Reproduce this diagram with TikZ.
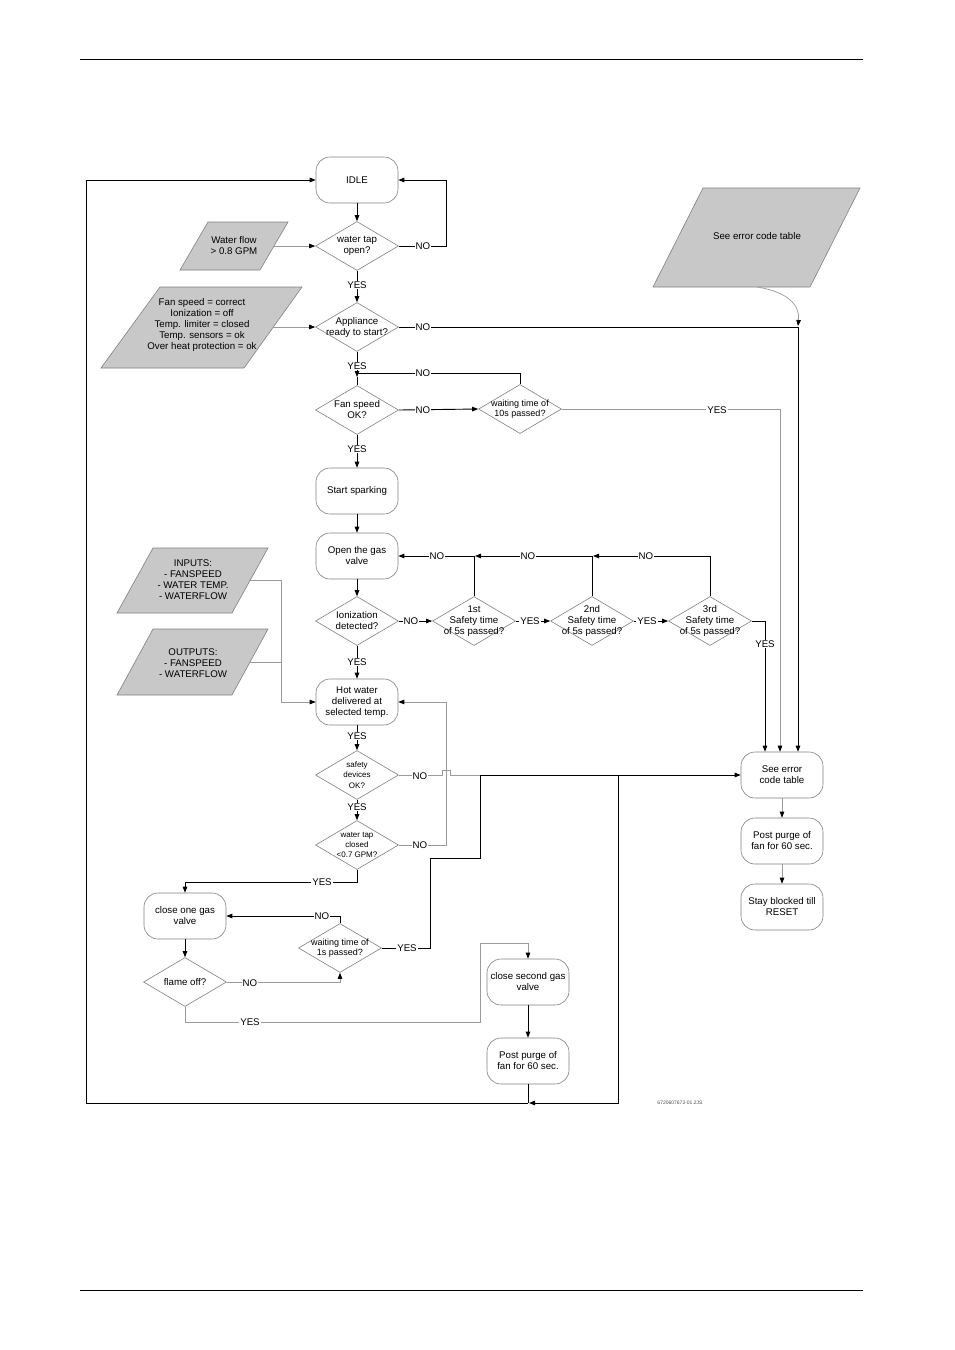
\documentclass[tikz,border=0pt]{standalone}
\usepackage{fontspec}
\setmainfont{Liberation Sans}
\usetikzlibrary{shapes.geometric,arrows.meta}
\definecolor{shapegray}{HTML}{808080}
\definecolor{linegray}{HTML}{9A9A9A}
\definecolor{parafill}{HTML}{C8C8C8}
\begin{document}
\begin{tikzpicture}[x=1pt,y=-1pt,
  every node/.style={font=\fontsize{9.7}{11}\selectfont},
  term/.style={draw=shapegray, line width=0.6pt, rounded corners=14pt, minimum width=82pt, minimum height=46pt, align=center, fill=white, inner sep=1pt},
  dia/.style={draw=shapegray, line width=0.6pt, diamond, minimum width=83pt, minimum height=49pt, inner sep=0pt, fill=white},
  dtxt/.style={align=center, inner sep=0pt},
  smalltxt/.style={align=center, inner sep=0pt, font=\fontsize{8}{10.3}\selectfont},
  midtxt/.style={align=center, inner sep=0pt, font=\fontsize{9}{10.5}\selectfont},
  para/.style={draw=shapegray, fill=parafill, line width=0.6pt},
  bl/.style={line width=0.9pt, black},
  gl/.style={line width=0.7pt, linegray},
  arr/.style={-{Triangle[length=6pt,width=4.5pt]}},
  garr/.style={-{Triangle[length=6pt,width=4.5pt,color=black]}},
  lab/.style={fill=white, inner sep=1pt},
]
\useasboundingbox (0,0) rectangle (954,1350);
% page rules
\draw[line width=0.9pt] (80,59) coordinate (ruleTL) -- (863,59) coordinate (ruleTR);
\draw[line width=0.9pt] (80,1290) coordinate (ruleBL) -- (863,1290) coordinate (ruleBR);

% data shapes (parallelograms)
\draw[para] (208,222) -- (288,222) -- (260,270) -- (180,270) -- cycle;
\node[dtxt] (wf) at (234,246) {Water flow\\> 0.8 GPM};
\coordinate (wfR) at (274,246);
\draw[para] (160,287) -- (302,287) -- (244,368) -- (101,368) -- cycle;
\node[dtxt] (fs) at (202,325) {Fan speed = correct\\Ionization = off\\Temp. limiter = closed\\Temp. sensors = ok\\Over heat protection = ok};
\coordinate (fsR) at (273,327);
\draw[para] (703,188) -- (860,188) -- (810,287) -- (653,287) -- cycle;
\node[dtxt] (errtab) at (757,236) {See error code table};
\coordinate (errB) at (757,287);
\draw[para] (153,548) -- (268,548) -- (232,613) -- (117,613) -- cycle;
\node[dtxt] (inp) at (193,580) {INPUTS:\\- FANSPEED\\- WATER TEMP.\\- WATERFLOW};
\coordinate (inpR) at (250,580);
\draw[para] (153,629) -- (268,629) -- (232,695) -- (117,695) -- cycle;
\node[dtxt] (outp) at (193,663) {OUTPUTS:\\- FANSPEED\\- WATERFLOW};
\coordinate (outR) at (250,662);

% terminators
\node[term] (idle) at (357,180) {IDLE};
\node[term] (spark) at (357,491) {Start sparking};
\node[term] (opengas) at (357,556) {Open the gas\\valve};
\node[term] (hotw) at (357,702) {Hot water\\delivered at\\selected temp.};
\node[term] (seeerr) at (782,775) {See error\\code table};
\node[term] (purgeR) at (782,841) {Post purge of\\fan for 60 sec.};
\node[term] (stay) at (782,907) {Stay blocked till\\RESET};
\node[term] (closeone) at (185,916) {close one gas\\valve};
\node[term] (closetwo) at (528,982) {close second gas\\valve};
\node[term] (purgeB) at (528,1061) {Post purge of\\fan for 60 sec.};

% decisions
\node[dia] (wto) at (357,246) {};
\node[dtxt] (wtoT) at (wto) {water tap\\open?};
\node[dia] (app) at (357,327) {};
\node[dtxt] (appT) at (app) {Appliance\\ready to start?};
\node[dia] (fan) at (357,410) {};
\node[dtxt] (fanT) at (fan) {Fan speed\\OK?};
\node[dia] (w10) at (520,409) {};
\node[midtxt] (w10T) at (w10) {waiting time of\\10s passed?};
\node[dia] (ion) at (357,621) {};
\node[dtxt] (ionT) at (ion) {Ionization\\detected?};
\node[dia] (s1) at (474,621) {};
\node[dtxt] (s1T) at (s1) {1st\\Safety time\\of 5s passed?};
\node[dia] (s2) at (592,621) {};
\node[dtxt] (s2T) at (s2) {2nd\\Safety time\\of 5s passed?};
\node[dia] (s3) at (710,621) {};
\node[dtxt] (s3T) at (s3) {3rd\\Safety time\\of 5s passed?};
\node[dia] (safe) at (357,775) {};
\node[smalltxt] (safeT) at (safe) {safety\\devices\\OK?};
\node[dia] (wtc) at (357,845) {};
\node[smalltxt] (wtcT) at (wtc) {water tap\\closed\\<0.7 GPM?};
\node[dia] (w1) at (340,948) {};
\node[midtxt] (w1T) at (w1) {waiting time of\\1s passed?};
\node[dia] (flame) at (185,982) {};
\node[dtxt] (flameT) at (flame) {flame off?};

% connectors
\draw[bl,arr] (idle.south) -- (wto.north);
\draw[bl,arr] (wto.east) -- ++(48,0) |- (idle.east);
\draw[gl,garr] (wfR) -- (wto.west);
\draw[bl,arr] (wto.south) -- (app.north);
\draw[gl,garr] (fsR) -- (app.west);
\draw[bl,arr] (app.east) -| ([xshift=16pt]seeerr.north);
\draw[gl,garr] (errB) .. controls (788,292) and (800,305) .. (798,326);
\draw[bl,arr] (app.south) -- (357,377);
\draw[bl] (357,377) -- (fan.north);
\draw[bl] (w10.north) |- (357,373);
\draw[bl,arr] (fan.east) -- (w10.west);
\draw[gl,garr] (w10.east) -| ([xshift=-2pt]seeerr.north);
\draw[bl,arr] (fan.south) -- (spark.north);
\draw[bl,arr] (spark.south) -- (opengas.north);
\draw[bl,arr] (opengas.south) -- (ion.north);
\draw[bl,arr] (ion.east) -- (s1.west);
\draw[bl,arr] (s1.east) -- (s2.west);
\draw[bl,arr] (s2.east) -- (s3.west);
\draw[bl,arr] (s1.north) |- (opengas.east);
\draw[bl,arr] (s2.north) |- ([xshift=1pt]s1.north |- opengas.east);
\draw[bl,arr] (s3.north) |- ([xshift=1pt]s2.north |- opengas.east);
\draw[bl,arr] (s3.east) -| ([xshift=-17pt]seeerr.north);
\draw[bl,arr] (ion.south) -- (hotw.north);
\draw[gl,garr] (inpR) -| ([xshift=-34pt]hotw.west) -- (hotw.west);
\draw[gl] (outR) -- (282,662);
\draw[bl,arr] (hotw.south) -- (safe.north);
\draw[gl] (safe.east) -- (442,775) -- (442,770) -- (450,770) -- (450,775) -- (480,775) coordinate (jn);
\draw[bl,arr] (jn) -- (seeerr.west);
\draw[bl,arr] (safe.south) -- (wtc.north);
\draw[gl,garr] (wtc.east) -- (446,845) |- (hotw.east);
\draw[bl,arr] (wtc.south) -- (357,882) -| (closeone.north);
\draw[bl,arr] (closeone.south) -- (flame.north);
\draw[gl,garr] (flame.east) -| (w1.south);
\draw[bl,arr] (w1.north) |- (closeone.east);
\draw[bl] (w1.east) -- (430,948) -- (430,858) -- (480,858) -- (jn);
\draw[gl,garr] (flame.south) -- (185,1022) -- (480,1022) -- (480,943) -| (closetwo.north);
\draw[bl,arr] (closetwo.south) -- (purgeB.north);
\draw[bl] (purgeB.south) -- (528,1103) coordinate (bj);
\draw[bl,arr] (618,775) -- (618,1103) -- ([xshift=1pt]bj);
\draw[bl,arr] (bj) -- (86,1103) -- (86,180) -- (idle.west);
\draw[gl,garr] (seeerr.south) -- (purgeR.north);
\draw[gl,garr] (purgeR.south) -- (stay.north);

% labels
\node[lab] (l1) at (423,246) {NO};
\node[lab] (l2) at (357,285) {YES};
\node[lab] (l3) at (423,327) {NO};
\node[lab] (l4) at (357,366) {YES};
\node[lab] (l5) at (423,373) {NO};
\node[lab] (l6) at (423,410) {NO};
\node[lab] (l7) at (717,410) {YES};
\node[lab] (l8) at (357,449) {YES};
\node[lab] (l9) at (437,556) {NO};
\node[lab] (l10) at (528,556) {NO};
\node[lab] (l11) at (646,556) {NO};
\node[lab] (l12) at (411,621) {NO};
\node[lab] (l13) at (530,621) {YES};
\node[lab] (l14) at (647,621) {YES};
\node[lab] (l15) at (765,644) {YES};
\node[lab] (l16) at (357,662) {YES};
\node[lab] (l17) at (357,736) {YES};
\node[lab] (l18) at (420,776) {NO};
\node[lab] (l19) at (357,807) {YES};
\node[lab] (l20) at (420,845) {NO};
\node[lab] (l21) at (322,882) {YES};
\node[lab] (l22) at (322,916) {NO};
\node[lab] (l23) at (407,948) {YES};
\node[lab] (l24) at (250,983) {NO};
\node[lab] (l25) at (250,1022) {YES};
\node[font=\fontsize{5}{6}\selectfont, text=black!70] (code) at (680,1103) {6720607672-01.2JS};
\end{tikzpicture}
\end{document}
